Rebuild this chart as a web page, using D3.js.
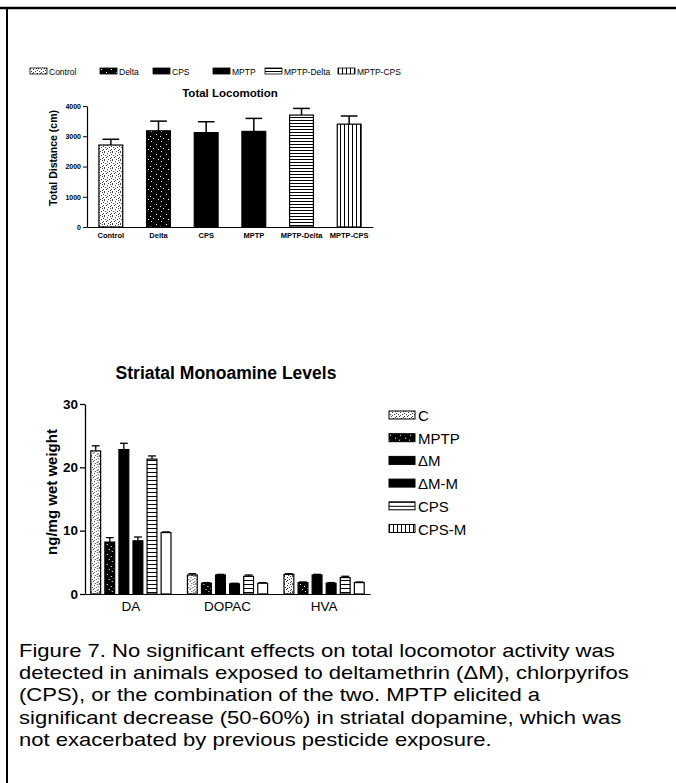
<!DOCTYPE html>
<html>
<head>
<meta charset="utf-8">
<script src="https://cdn.jsdelivr.net/npm/d3@7"></script>
<style>
  html, body { margin: 0; background: #fff; overflow: hidden; }
  svg { display: block; }
  text { font-family: "Liberation Sans", Arial, sans-serif; }
</style>
</head>
<body>
<svg id="fig" width="676" height="783"></svg>
<script>
// top chart: total locomotion
var locoGroups = ['Control', 'Delta', 'CPS', 'MPTP', 'MPTP-Delta', 'MPTP-CPS'];
var locoMeans = [2710, 3180, 3120, 3160, 3700, 3400];
var locoErr = [190, 320, 360, 430, 220, 270];
var locoTicks = [0, 1000, 2000, 3000, 4000];

// bottom chart: striatal monoamines
var amines = ['DA', 'DOPAC', 'HVA'];
var amineSeries = ['C', 'MPTP', '\u0394M', '\u0394M-M', 'CPS', 'CPS-M'];
var amineMeans = [
  [22.6, 8.2, 22.8, 8.4, 21.3, 9.7],
  [3.0, 1.7, 3.0, 1.6, 2.8, 1.7],
  [3.1, 1.8, 3.0, 1.7, 2.6, 1.8]
];
var amineErr = [
  [0.8, 0.7, 1.0, 0.6, 0.5, 0.1],
  [0.2, 0.1, 0.1, 0.1, 0.2, 0.1],
  [0.1, 0.1, 0.1, 0.1, 0.2, 0.1]
];
var amineTicks = [0, 10, 20, 30];

var captionLines = [
  'Figure 7. No significant effects on total locomotor activity was',
  'detected in animals exposed to deltamethrin (\u0394M), chlorpyrifos',
  '(CPS), or the combination of the two. MPTP elicited a',
  'significant decrease (50-60%) in striatal dopamine, which was',
  'not exacerbated by previous pesticide exposure.'
];

var svg = d3.select('#fig');
var defs = svg.append('defs');

// fill textures
function dotPattern(id, bg, fg, dots, size){
  var p = defs.append('pattern').attr('id', id)
    .attr('patternUnits', 'userSpaceOnUse')
    .attr('width', size).attr('height', size);
  p.append('rect').attr('width', size).attr('height', size).attr('fill', bg);
  dots.forEach(function(d){
    p.append('rect').attr('x', d[0]).attr('y', d[1])
      .attr('width', 1).attr('height', 1).attr('fill', fg);
  });
}
dotPattern('stipple', '#fff', '#444',
  [[0,0],[3,1],[6,0],[1,3],[5,3],[2,5],[7,5],[0,7],[4,7],[6,6],[3,4],[7,2]], 8);
dotPattern('darkstip', '#000', '#fff',
  [[1,1],[6,4],[3,8],[8,9],[0,6]], 10);

function linePattern(id, gap, vertical){
  var p = defs.append('pattern').attr('id', id)
    .attr('patternUnits', 'userSpaceOnUse')
    .attr('width', gap).attr('height', gap);
  p.append('rect').attr('width', gap).attr('height', gap).attr('fill', '#fff');
  if (vertical)
    p.append('rect').attr('x', 0).attr('y', 0).attr('width', 1).attr('height', gap).attr('fill', '#000');
  else
    p.append('rect').attr('x', 0).attr('y', 0).attr('width', gap).attr('height', 1).attr('fill', '#000');
}
linePattern('hlines', 3, false);
linePattern('vlines', 4, true);
linePattern('hlines2', 4, false);

var locoFill = ['url(#stipple)', 'url(#darkstip)', '#000', '#000', 'url(#hlines)', 'url(#vlines)'];
var amineFill = ['url(#stipple)', 'url(#darkstip)', '#000', '#000', 'url(#hlines2)', '#fff'];
var amineLegendFill = ['url(#stipple)', 'url(#darkstip)', '#000', '#000', 'url(#hlines2)', 'url(#vlines)'];

// frame
svg.append('line').attr('x1', 0).attr('x2', 676).attr('y1', 8).attr('y2', 8)
  .attr('stroke', '#000').attr('stroke-width', 2.5);
svg.append('line').attr('x1', 7).attr('x2', 7).attr('y1', 7).attr('y2', 783)
  .attr('stroke', '#000').attr('stroke-width', 2);

// ---------- top chart ----------
var tx = d3.scaleBand().domain(locoGroups).range([87, 373]).paddingInner(0.5).paddingOuter(0.25);
var ty = d3.scaleLinear().domain([0, 4000]).range([227, 106]);

var legX = [30, 100, 153, 213, 265, 338];
var leg = svg.append('g').selectAll('g').data(locoGroups).enter().append('g')
  .attr('transform', function(d, i){ return 'translate(' + [legX[i], 68] + ')'; });
leg.append('rect').attr('width', 17).attr('height', 6)
  .attr('fill', function(d, i){ return locoFill[i]; })
  .attr('stroke', '#000').attr('stroke-width', 0.8);
leg.append('text').attr('x', 19).attr('y', 6.5)
  .attr('font-size', 8.5).text(function(d){ return d; });

svg.append('text').attr('x', 230).attr('y', 97).attr('text-anchor', 'middle')
  .attr('font-size', 11.5).attr('font-weight', 'bold').text('Total Locomotion');

var tyAxis = svg.append('g').attr('transform', 'translate(87,0)')
  .call(d3.axisLeft(ty).tickValues(locoTicks).tickFormat(d3.format('d')).tickSize(4).tickSizeOuter(0).tickPadding(2));
tyAxis.selectAll('text').attr('font-size', 7).attr('font-weight', 'bold').attr('font-family', 'Liberation Sans, Arial');
tyAxis.select('.domain').attr('stroke-width', 1.2);

var txAxis = svg.append('g').attr('transform', 'translate(0,227)')
  .call(d3.axisBottom(tx).tickSize(0).tickSizeOuter(0).tickPadding(6));
txAxis.selectAll('text').attr('font-size', 7.5).attr('font-weight', 'bold').attr('font-family', 'Liberation Sans, Arial');
txAxis.select('.domain').attr('stroke-width', 1.2);

svg.append('text').attr('transform', 'translate(57,158) rotate(-90)')
  .attr('text-anchor', 'middle').attr('font-size', 10.5).attr('font-weight', 'bold')
  .text('Total Distance (cm)');

var tbars = svg.append('g').selectAll('g').data(locoGroups).enter().append('g');
tbars.append('line')
  .attr('x1', function(d){ return tx(d) + tx.bandwidth() / 2; })
  .attr('x2', function(d){ return tx(d) + tx.bandwidth() / 2; })
  .attr('y1', function(d, i){ return ty(locoMeans[i]); })
  .attr('y2', function(d, i){ return ty(locoMeans[i] + locoErr[i]); })
  .attr('stroke', '#000').attr('stroke-width', 1.5);
tbars.append('line')
  .attr('x1', function(d){ return tx(d) + tx.bandwidth() * 0.15; })
  .attr('x2', function(d){ return tx(d) + tx.bandwidth() * 0.85; })
  .attr('y1', function(d, i){ return ty(locoMeans[i] + locoErr[i]); })
  .attr('y2', function(d, i){ return ty(locoMeans[i] + locoErr[i]); })
  .attr('stroke', '#000').attr('stroke-width', 1.5);
tbars.append('rect')
  .attr('x', function(d){ return tx(d); })
  .attr('width', tx.bandwidth())
  .attr('y', function(d, i){ return ty(locoMeans[i]); })
  .attr('height', function(d, i){ return ty(0) - ty(locoMeans[i]); })
  .attr('fill', function(d, i){ return locoFill[i]; })
  .attr('stroke', '#000').attr('stroke-width', 1.2);

// ---------- bottom chart ----------
var bx0 = d3.scaleBand().domain(amines).range([85, 370]).paddingInner(0.17).paddingOuter(0.06);
var bx1 = d3.scaleBand().domain(amineSeries).range([0, bx0.bandwidth()]).paddingInner(0.3);
var by = d3.scaleLinear().domain([0, 30]).range([594, 404]);

svg.append('text').attr('x', 226).attr('y', 379).attr('text-anchor', 'middle')
  .attr('font-size', 17.5).attr('font-weight', 'bold').text('Striatal Monoamine Levels');

var byAxis = svg.append('g').attr('transform', 'translate(85,0)')
  .call(d3.axisLeft(by).tickValues(amineTicks).tickSize(5).tickSizeOuter(0).tickPadding(2));
byAxis.selectAll('text').attr('font-size', 13.5).attr('font-weight', 'bold').attr('font-family', 'Liberation Sans, Arial');
byAxis.select('.domain').attr('stroke-width', 1.3);
byAxis.selectAll('.tick line').attr('stroke-width', 1.3);

var bxAxis = svg.append('g').attr('transform', 'translate(0,594)')
  .call(d3.axisBottom(bx0).tickSize(0).tickSizeOuter(0).tickPadding(7));
bxAxis.selectAll('text').attr('font-size', 13.5).attr('font-family', 'Liberation Sans, Arial');
bxAxis.select('.domain').attr('stroke-width', 1.2);

svg.append('text').attr('transform', 'translate(57,492) rotate(-90)')
  .attr('text-anchor', 'middle').attr('font-size', 15).attr('font-weight', 'bold')
  .text('ng/mg wet weight');

var bgroups = svg.append('g').selectAll('g').data(amines).enter().append('g')
  .attr('transform', function(d){ return 'translate(' + bx0(d) + ',0)'; });
var bbars = bgroups.selectAll('g').data(function(d, gi){
  return amineSeries.map(function(s, si){
    return {s: s, si: si, v: amineMeans[gi][si], e: amineErr[gi][si]};
  });
}).enter().append('g');
bbars.append('line')
  .attr('x1', function(d){ return bx1(d.s) + bx1.bandwidth() / 2; })
  .attr('x2', function(d){ return bx1(d.s) + bx1.bandwidth() / 2; })
  .attr('y1', function(d){ return by(d.v); })
  .attr('y2', function(d){ return by(d.v + d.e); })
  .attr('stroke', '#000').attr('stroke-width', 1.3);
bbars.append('line')
  .attr('x1', function(d){ return bx1(d.s) + 1; })
  .attr('x2', function(d){ return bx1(d.s) + bx1.bandwidth() - 1; })
  .attr('y1', function(d){ return by(d.v + d.e); })
  .attr('y2', function(d){ return by(d.v + d.e); })
  .attr('stroke', '#000').attr('stroke-width', 1.3);
bbars.append('rect')
  .attr('x', function(d){ return bx1(d.s); })
  .attr('width', bx1.bandwidth())
  .attr('y', function(d){ return by(d.v); })
  .attr('height', function(d){ return by(0) - by(d.v); })
  .attr('fill', function(d){ return amineFill[d.si]; })
  .attr('stroke', '#000').attr('stroke-width', 1.2);

var bleg = svg.append('g').selectAll('g').data(amineSeries).enter().append('g')
  .attr('transform', function(d, i){ return 'translate(' + [389, 411 + i * 22.7] + ')'; });
bleg.append('rect').attr('width', 26).attr('height', 8)
  .attr('fill', function(d, i){ return amineLegendFill[i]; })
  .attr('stroke', '#000').attr('stroke-width', 1);
bleg.append('text').attr('x', 29).attr('y', 10)
  .attr('font-size', 15).text(function(d){ return d; });

// caption: slightly wide face, like the scanned original
svg.append('g').attr('transform', 'translate(19,0) scale(1.16,1)')
  .selectAll('text').data(captionLines).enter().append('text')
  .attr('x', 0).attr('y', function(d, i){ return 657 + i * 22.2; })
  .attr('font-size', 19).text(function(d){ return d; });
</script>
</body>
</html>
